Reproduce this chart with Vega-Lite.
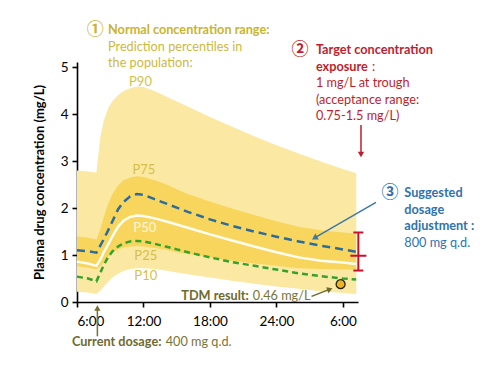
{
  "$schema": "https://vega.github.io/schema/vega-lite/v6.json",
  "autosize": "none",
  "width": 281,
  "height": 240,
  "padding": {"left": 77, "top": 62, "right": 142, "bottom": 73},
  "background": "white",
  "config": {
    "view": {"stroke": null},
    "font": "Lato",
    "axis": {"domainColor": "black", "domainWidth": 1.6, "tickColor": "black", "tickWidth": 1.6, "tickSize": 5, "labelColor": "black", "labelFont": "Lato", "labelFontSize": 13.5, "grid": false, "zindex": 1, "titleFont": "Lato", "titleFontSize": 13, "titleFontWeight": "bold", "titleColor": "black"}
  },
  "datasets": {
    "curves": [
      {"t": 6, "p10": 0.22, "p25": 0.76, "p50": 0.86, "p75": 1.40, "p90": 2.80, "blue": 1.10, "green": 0.54},
      {"t": 7, "p10": 0.20, "p25": 0.73, "p50": 0.82, "p75": 1.37, "p90": 2.78, "blue": 1.08, "green": 0.50},
      {"t": 7.75, "p10": 0.17, "p25": 0.69, "p50": 0.77, "p75": 1.33, "p90": 2.75, "blue": 1.05, "green": 0.44},
      {"t": 8.1, "p10": 0.24, "p25": 0.76, "p50": 0.90, "p75": 1.55, "p90": 3.50, "blue": 1.20, "green": 0.62},
      {"t": 8.4, "p10": 0.32, "p25": 0.84, "p50": 1.05, "p75": 1.80, "p90": 3.85, "blue": 1.33, "green": 0.78},
      {"t": 8.8, "p10": 0.43, "p25": 0.96, "p50": 1.22, "p75": 2.08, "p90": 4.12, "blue": 1.52, "green": 0.95},
      {"t": 9.2, "p10": 0.52, "p25": 1.05, "p50": 1.40, "p75": 2.30, "p90": 4.28, "blue": 1.72, "green": 1.08},
      {"t": 9.7, "p10": 0.60, "p25": 1.12, "p50": 1.60, "p75": 2.48, "p90": 4.40, "blue": 1.97, "green": 1.18},
      {"t": 10.2, "p10": 0.66, "p25": 1.16, "p50": 1.73, "p75": 2.59, "p90": 4.49, "blue": 2.13, "green": 1.25},
      {"t": 10.8, "p10": 0.70, "p25": 1.18, "p50": 1.81, "p75": 2.65, "p90": 4.55, "blue": 2.25, "green": 1.29},
      {"t": 11.4, "p10": 0.72, "p25": 1.19, "p50": 1.84, "p75": 2.68, "p90": 4.59, "blue": 2.30, "green": 1.30},
      {"t": 12, "p10": 0.72, "p25": 1.18, "p50": 1.83, "p75": 2.66, "p90": 4.58, "blue": 2.28, "green": 1.29},
      {"t": 13, "p10": 0.70, "p25": 1.15, "p50": 1.78, "p75": 2.59, "p90": 4.49, "blue": 2.19, "green": 1.24},
      {"t": 14, "p10": 0.67, "p25": 1.11, "p50": 1.72, "p75": 2.51, "p90": 4.38, "blue": 2.10, "green": 1.18},
      {"t": 15, "p10": 0.63, "p25": 1.06, "p50": 1.65, "p75": 2.40, "p90": 4.27, "blue": 2.01, "green": 1.12},
      {"t": 16, "p10": 0.59, "p25": 1.02, "p50": 1.58, "p75": 2.30, "p90": 4.16, "blue": 1.92, "green": 1.06},
      {"t": 18, "p10": 0.52, "p25": 0.95, "p50": 1.44, "p75": 2.14, "p90": 3.94, "blue": 1.76, "green": 0.95},
      {"t": 20, "p10": 0.45, "p25": 0.88, "p50": 1.31, "p75": 1.99, "p90": 3.73, "blue": 1.62, "green": 0.85},
      {"t": 22, "p10": 0.39, "p25": 0.82, "p50": 1.18, "p75": 1.85, "p90": 3.53, "blue": 1.50, "green": 0.77},
      {"t": 24, "p10": 0.33, "p25": 0.77, "p50": 1.06, "p75": 1.72, "p90": 3.34, "blue": 1.39, "green": 0.69},
      {"t": 26, "p10": 0.28, "p25": 0.72, "p50": 0.95, "p75": 1.60, "p90": 3.16, "blue": 1.29, "green": 0.61},
      {"t": 28, "p10": 0.23, "p25": 0.70, "p50": 0.88, "p75": 1.53, "p90": 2.99, "blue": 1.20, "green": 0.55},
      {"t": 30, "p10": 0.19, "p25": 0.69, "p50": 0.84, "p75": 1.48, "p90": 2.83, "blue": 1.12, "green": 0.50},
      {"t": 31.2, "p10": 0.17, "p25": 0.69, "p50": 0.81, "p75": 1.46, "p90": 2.74, "blue": 1.07, "green": 0.48}
    ]
  },
  "layer": [
    {
      "data": {"name": "curves"},
      "mark": {"type": "area", "color": "#FBE8A2"},
      "encoding": {
        "x": {"field": "t", "type": "quantitative", "scale": {"domain": [6, 31.36], "nice": false, "zero": false},
              "axis": {"values": [6, 12, 18, 24, 30], "title": null, "labelExpr": "datum.value == 30 ? '6:00' : datum.value + ':00'", "labelPadding": 7}},
        "y": {"field": "p90", "type": "quantitative", "scale": {"domain": [0, 5.11], "nice": false, "zero": false},
              "axis": {"values": [0, 1, 2, 3, 4, 5], "title": "Plasma drug concentration (mg/L)", "labelPadding": 4, "titlePadding": 14}},
        "y2": {"field": "p10"}
      }
    },
    {
      "data": {"name": "curves"},
      "mark": {"type": "area", "color": "#F8D65E"},
      "encoding": {
        "x": {"field": "t", "type": "quantitative"},
        "y": {"field": "p75", "type": "quantitative"},
        "y2": {"field": "p25"}
      }
    },
    {
      "data": {"name": "curves"},
      "mark": {"type": "line", "color": "#FFFDF2", "strokeWidth": 2.5},
      "encoding": {"x": {"field": "t", "type": "quantitative"}, "y": {"field": "p50", "type": "quantitative"}}
    },
    {
      "data": {"name": "curves"},
      "mark": {"type": "line", "color": "#2B6C9E", "strokeWidth": 2.5, "strokeDash": [8, 5]},
      "encoding": {"x": {"field": "t", "type": "quantitative"}, "y": {"field": "blue", "type": "quantitative"}}
    },
    {
      "data": {"name": "curves"},
      "mark": {"type": "line", "color": "#35A22C", "strokeWidth": 2.5, "strokeDash": [6, 4]},
      "encoding": {"x": {"field": "t", "type": "quantitative"}, "y": {"field": "green", "type": "quantitative"}}
    },
    {
      "data": {"values": [{"t": 31.39, "lo": 0.67, "hi": 1.48}]},
      "mark": {"type": "rule", "color": "#C8102E", "strokeWidth": 2},
      "encoding": {"x": {"field": "t", "type": "quantitative"}, "y": {"field": "lo", "type": "quantitative"}, "y2": {"field": "hi"}}
    },
    {
      "data": {"values": [{"a": 30.94, "b": 31.84, "v": 1.48}, {"a": 30.94, "b": 31.84, "v": 0.67}, {"a": 30.67, "b": 32.12, "v": 0.985}]},
      "mark": {"type": "rule", "color": "#C8102E", "strokeWidth": 2},
      "encoding": {"x": {"field": "a", "type": "quantitative"}, "x2": {"field": "b"}, "y": {"field": "v", "type": "quantitative"}}
    },
    {
      "data": {"values": [{"t": 29.79, "v": 0.38}]},
      "mark": {"type": "point", "filled": true, "fill": "#EDB51C", "stroke": "#222222", "strokeWidth": 1.3, "size": 80, "shape": "circle", "opacity": 1},
      "encoding": {"x": {"field": "t", "type": "quantitative"}, "y": {"field": "v", "type": "quantitative"}}
    },
    {
      "data": {"values": [{"t": 31.63, "v": 3.77, "t2": 31.63, "v2": 3.13}]},
      "mark": {"type": "rule", "color": "#BE1E2D", "strokeWidth": 1.5},
      "encoding": {"x": {"field": "t", "type": "quantitative"}, "y": {"field": "v", "type": "quantitative"}, "x2": {"field": "t2"}, "y2": {"field": "v2"}}
    },
    {
      "data": {"values": [{"t": 31.63, "v": 3.14}]},
      "mark": {"type": "point", "shape": "triangle-down", "filled": true, "color": "#BE1E2D", "size": 40, "opacity": 1},
      "encoding": {"x": {"field": "t", "type": "quantitative"}, "y": {"field": "v", "type": "quantitative"}}
    },
    {
      "data": {"values": [{"t": 7.84, "v": -0.73, "t2": 7.84, "v2": -0.14}]},
      "mark": {"type": "rule", "color": "#767032", "strokeWidth": 1.5},
      "encoding": {"x": {"field": "t", "type": "quantitative"}, "y": {"field": "v", "type": "quantitative"}, "x2": {"field": "t2"}, "y2": {"field": "v2"}}
    },
    {
      "data": {"values": [{"t": 7.84, "v": -0.13}]},
      "mark": {"type": "point", "shape": "triangle-up", "filled": true, "color": "#767032", "size": 40, "opacity": 1},
      "encoding": {"x": {"field": "t", "type": "quantitative"}, "y": {"field": "v", "type": "quantitative"}}
    },
    {
      "data": {"values": [{"t": 27.17, "v": 0.12, "t2": 28.9, "v2": 0.28}]},
      "mark": {"type": "rule", "color": "#6E6A2E", "strokeWidth": 1.5},
      "encoding": {"x": {"field": "t", "type": "quantitative"}, "y": {"field": "v", "type": "quantitative"}, "x2": {"field": "t2"}, "y2": {"field": "v2"}}
    },
    {
      "data": {"values": [{"t": 28.82, "v": 0.27}]},
      "mark": {"type": "point", "shape": "triangle-up", "angle": 69, "filled": true, "color": "#6E6A2E", "size": 40, "opacity": 1},
      "encoding": {"x": {"field": "t", "type": "quantitative"}, "y": {"field": "v", "type": "quantitative"}}
    },
    {
      "data": {"values": [{"t": 32.98, "v": 2.12, "t2": 27.4, "v2": 1.36}]},
      "mark": {"type": "rule", "color": "#3A78A8", "strokeWidth": 1.5},
      "encoding": {"x": {"field": "t", "type": "quantitative"}, "y": {"field": "v", "type": "quantitative"}, "x2": {"field": "t2"}, "y2": {"field": "v2"}}
    },
    {
      "data": {"values": [{"t": 27.44, "v": 1.364}]},
      "mark": {"type": "point", "shape": "triangle-up", "angle": 240, "filled": true, "color": "#3A78A8", "size": 45, "opacity": 1},
      "encoding": {"x": {"field": "t", "type": "quantitative"}, "y": {"field": "v", "type": "quantitative"}}
    },
    {
      "data": {"values": [{"t": 11.73, "v": 4.69, "label": "P90"}, {"t": 12.03, "v": 2.815, "label": "P75"}, {"t": 12.21, "v": 0.99, "label": "P25"}, {"t": 12.21, "v": 0.545, "label": "P10"}]},
      "mark": {"type": "text", "font": "Lato", "fontSize": 13, "color": "#D6BF48", "align": "center", "baseline": "middle"},
      "encoding": {"x": {"field": "t", "type": "quantitative"}, "y": {"field": "v", "type": "quantitative"}, "text": {"field": "label"}}
    },
    {
      "data": {"values": [{"t": 12.12, "v": 1.575, "label": "P50"}]},
      "mark": {"type": "text", "font": "Lato", "fontSize": 13, "color": "#FFF8DA", "align": "center", "baseline": "middle"},
      "encoding": {"x": {"field": "t", "type": "quantitative"}, "y": {"field": "v", "type": "quantitative"}, "text": {"field": "label"}}
    },
    {
      "data": {"values": [{"t": 7.64, "v": 5.79, "label": "①"}]},
      "mark": {"type": "text", "font": "Noto Sans CJK JP", "fontSize": 17, "fontWeight": "bold", "color": "#C9B42D", "align": "center", "baseline": "middle"},
      "encoding": {"x": {"field": "t", "type": "quantitative"}, "y": {"field": "v", "type": "quantitative"}, "text": {"field": "label"}}
    },
    {
      "data": {"values": [{"t": 8.8, "v": 5.79, "label": "Normal concentration range:"}]},
      "mark": {"type": "text", "font": "Lato", "fontSize": 12.7, "fontWeight": "bold", "color": "#C9B42D", "align": "left", "baseline": "middle"},
      "encoding": {"x": {"field": "t", "type": "quantitative"}, "y": {"field": "v", "type": "quantitative"}, "text": {"field": "label"}}
    },
    {
      "data": {"values": [{"t": 8.8, "v": 5.44, "label": "Prediction percentiles in"}, {"t": 8.8, "v": 5.085, "label": "the population:"}]},
      "mark": {"type": "text", "font": "Lato", "fontSize": 12.7, "color": "#CDB940", "align": "left", "baseline": "middle"},
      "encoding": {"x": {"field": "t", "type": "quantitative"}, "y": {"field": "v", "type": "quantitative"}, "text": {"field": "label"}}
    },
    {
      "data": {"values": [{"t": 26.12, "v": 5.37, "label": "②"}]},
      "mark": {"type": "text", "font": "Noto Sans CJK JP", "fontSize": 17, "fontWeight": "bold", "color": "#BE1E2D", "align": "center", "baseline": "middle"},
      "encoding": {"x": {"field": "t", "type": "quantitative"}, "y": {"field": "v", "type": "quantitative"}, "text": {"field": "label"}}
    },
    {
      "data": {"values": [{"t": 27.56, "v": 5.37, "label": "Target concentration"}, {"t": 27.56, "v": 5.01, "label": "exposure"}]},
      "mark": {"type": "text", "font": "Lato", "fontSize": 12.7, "fontWeight": "bold", "color": "#BE1E2D", "align": "left", "baseline": "middle"},
      "encoding": {"x": {"field": "t", "type": "quantitative"}, "y": {"field": "v", "type": "quantitative"}, "text": {"field": "label"}}
    },
    {
      "data": {"values": [{"t": 32.62, "v": 5.01, "label": ":"}, {"t": 27.56, "v": 4.66, "label": "1 mg/L at trough"}, {"t": 27.56, "v": 4.30, "label": "(acceptance range:"}, {"t": 27.56, "v": 3.95, "label": "0.75-1.5 mg/L)"}]},
      "mark": {"type": "text", "font": "Lato", "fontSize": 12.7, "color": "#BE1E2D", "align": "left", "baseline": "middle"},
      "encoding": {"x": {"field": "t", "type": "quantitative"}, "y": {"field": "v", "type": "quantitative"}, "text": {"field": "label"}}
    },
    {
      "data": {"values": [{"t": 34.25, "v": 2.32, "label": "③"}]},
      "mark": {"type": "text", "font": "Noto Sans CJK JP", "fontSize": 17, "fontWeight": "bold", "color": "#2E72B0", "align": "center", "baseline": "middle"},
      "encoding": {"x": {"field": "t", "type": "quantitative"}, "y": {"field": "v", "type": "quantitative"}, "text": {"field": "label"}}
    },
    {
      "data": {"values": [{"t": 35.54, "v": 2.32, "label": "Suggested"}, {"t": 35.54, "v": 1.96, "label": "dosage"}, {"t": 35.54, "v": 1.61, "label": "adjustment :"}]},
      "mark": {"type": "text", "font": "Lato", "fontSize": 12.7, "fontWeight": "bold", "color": "#2E72B0", "align": "left", "baseline": "middle"},
      "encoding": {"x": {"field": "t", "type": "quantitative"}, "y": {"field": "v", "type": "quantitative"}, "text": {"field": "label"}}
    },
    {
      "data": {"values": [{"t": 35.54, "v": 1.255, "label": "800 mg q.d."}]},
      "mark": {"type": "text", "font": "Lato", "fontSize": 12.7, "color": "#2E72B0", "align": "left", "baseline": "middle"},
      "encoding": {"x": {"field": "t", "type": "quantitative"}, "y": {"field": "v", "type": "quantitative"}, "text": {"field": "label"}}
    },
    {
      "data": {"values": [{"t": 21.51, "v": 0.134, "label": "TDM result:"}, {"t": 13.62, "v": -0.851, "label": "Current dosage:"}]},
      "mark": {"type": "text", "font": "Lato", "fontSize": 12.7, "fontWeight": "bold", "color": "#6E6A2E", "align": "right", "baseline": "middle"},
      "encoding": {"x": {"field": "t", "type": "quantitative"}, "y": {"field": "v", "type": "quantitative"}, "text": {"field": "label"}}
    },
    {
      "data": {"values": [{"t": 21.87, "v": 0.134, "label": "0.46 mg/L"}, {"t": 14.01, "v": -0.851, "label": "400 mg q.d."}]},
      "mark": {"type": "text", "font": "Lato", "fontSize": 12.7, "color": "#7A7436", "align": "left", "baseline": "middle"},
      "encoding": {"x": {"field": "t", "type": "quantitative"}, "y": {"field": "v", "type": "quantitative"}, "text": {"field": "label"}}
    }
  ]
}
